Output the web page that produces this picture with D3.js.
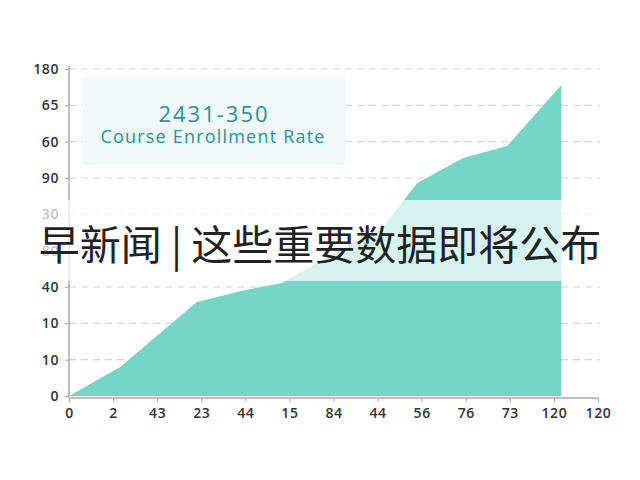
<!DOCTYPE html>
<html><head><meta charset="utf-8">
<script src="https://cdn.jsdelivr.net/npm/d3@7/dist/d3.min.js"></script>
<style>body{margin:0;background:#fff;}svg{display:block;}</style>
</head><body>
<script>
const yTickLabels = ["0","10","10","40","80","30","90","60","65","180"];
const xTickLabels = ["0","2","43","23","44","15","84","44","56","76","73","120","120"];
const seriesX = [0, 1.16, 2.9, 4.0, 4.83, 7.15, 7.9, 8.94, 9.94, 11.17];
const seriesY = [0, 0.8, 2.59, 2.92, 3.11, 4.7, 5.86, 6.55, 6.88, 8.56];
const boxTitle = "2431-350";
const boxSubtitle = "Course Enrollment Rate";
const bannerText = "早新闻 | 这些重要数据即将公布";

const W = 640, H = 480;
const svg = d3.select("body").append("svg").attr("width", W).attr("height", H);
const x = d3.scaleLinear().domain([0, 12]).range([69, 598]);
const y = d3.scaleLinear().domain([0, 9]).range([396, 69]);
const data = seriesX.map((v, i) => ({x: v, y: seriesY[i]}));

// gridlines
svg.append("g").selectAll("line").data(d3.range(1, 10)).join("line")
  .attr("x1", 69).attr("x2", 600)
  .attr("y1", d => y(d)).attr("y2", d => y(d))
  .attr("stroke", "#d4d4d4").attr("stroke-width", 1.2).attr("stroke-dasharray", "7,5");

// text box
svg.append("rect").attr("x", 82).attr("y", 77).attr("width", 264).attr("height", 88)
  .attr("rx", 3).attr("fill", "#eff9fa");
svg.append("text").attr("x", 214).attr("y", 122).attr("text-anchor", "middle")
  .attr("font-family", "'Open Sans', sans-serif").attr("font-size", 22)
  .attr("fill", "#2b8fa0").attr("letter-spacing", 2).text(boxTitle);
svg.append("text").attr("x", 213).attr("y", 143).attr("text-anchor", "middle")
  .attr("font-family", "'Open Sans', sans-serif").attr("font-size", 18)
  .attr("fill", "#2b8fa0").attr("letter-spacing", 1.2).text(boxSubtitle);

// area
const area = d3.area().x(d => x(d.x)).y0(y(0)).y1(d => y(d.y));
svg.append("path").datum(data).attr("d", area).attr("fill", "#76d5c8");

// axes
const yAxis = d3.axisLeft(y).tickValues(d3.range(0, 10)).tickFormat(d => yTickLabels[d])
  .tickSize(4).tickPadding(6);
const gy = svg.append("g").attr("transform", "translate(69,0)").call(yAxis);
gy.select(".domain").attr("stroke", "#aaa").attr("stroke-width", 1.5).attr("d", "M0,66V398");
gy.selectAll(".tick line").attr("stroke", "#aaa");
gy.selectAll("text").attr("font-family", "'Open Sans', sans-serif").attr("font-size", 14)
  .attr("font-weight", 600).attr("fill", "#333").attr("letter-spacing", 0.6);

const xAxis = d3.axisBottom(x).tickValues(d3.range(0, 13)).tickFormat(d => xTickLabels[d])
  .tickSize(4).tickPadding(6);
const gx = svg.append("g").attr("transform", "translate(0,398)").call(xAxis);
gx.select(".domain").attr("stroke", "#aaa").attr("stroke-width", 1.5).attr("d", "M69,0H598");
gx.selectAll(".tick line").attr("stroke", "#aaa");
gx.selectAll("text").attr("font-family", "'Open Sans', sans-serif").attr("font-size", 14)
  .attr("font-weight", 600).attr("fill", "#333").attr("letter-spacing", 0.6);

// banner overlay
svg.append("rect").attr("x", 0).attr("y", 200).attr("width", W).attr("height", 81)
  .attr("fill", "#fff").attr("opacity", 0.7);
svg.append("text").attr("x", 320).attr("y", 260).attr("text-anchor", "middle")
  .attr("font-family", "'Noto Sans CJK SC', sans-serif").attr("font-size", 41)
  .attr("fill", "#222").text(bannerText);
</script>
</body></html>
